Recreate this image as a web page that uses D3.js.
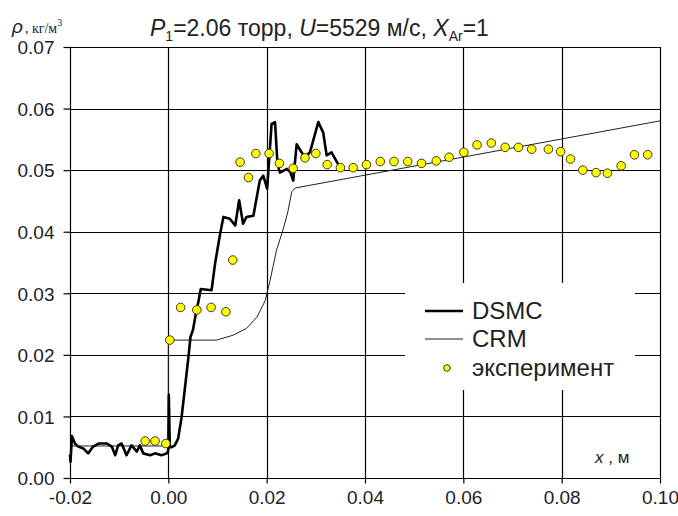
<!DOCTYPE html>
<html>
<head>
<meta charset="utf-8">
<script src="https://cdnjs.cloudflare.com/ajax/libs/d3/7.8.5/d3.min.js"></script>
<style>
body { margin: 0; background: #fff; }
text { font-family: "Liberation Sans", Arial, sans-serif; fill: #222; }
</style>
</head>
<body>
<svg id="visualisation" width="678" height="516"></svg>
<script>
var xTicks = [-0.02, 0.00, 0.02, 0.04, 0.06, 0.08, 0.10];
var yTicks = [0.00, 0.01, 0.02, 0.03, 0.04, 0.05, 0.06, 0.07];

// DSMC (thick line)
var dsmcX = [-0.0200, -0.0199, -0.0196, -0.0193, -0.0190, -0.0183, -0.0173, -0.0163, -0.0153, -0.0142,
  -0.0125, -0.0115, -0.0108, -0.0102, -0.0095, -0.0085, -0.0075, -0.0064, -0.0058, -0.0051,
  -0.0037, -0.0027, -0.0014, -0.0003, 0.0000, 0.0001, 0.0003, 0.0007, 0.0013, 0.0020,
  0.0027, 0.0034, 0.0041, 0.0045, 0.0050, 0.0056, 0.0061, 0.0066, 0.0088, 0.0095,
  0.0105, 0.0112, 0.0125, 0.0136, 0.0144, 0.0152, 0.0159, 0.0173, 0.0186, 0.0193,
  0.0201, 0.0210, 0.0217, 0.0222, 0.0227, 0.0241, 0.0248, 0.0254, 0.0261, 0.0271,
  0.0278, 0.0288, 0.0305, 0.0315, 0.0322, 0.0332, 0.0343, 0.0349];
var dsmcY = [0.0038, 0.0026, 0.0068, 0.0062, 0.0056, 0.0051, 0.0048, 0.0040, 0.0051, 0.0056,
  0.0056, 0.0051, 0.0037, 0.0053, 0.0056, 0.0037, 0.0053, 0.0043, 0.0053, 0.0040,
  0.0037, 0.0040, 0.0037, 0.0040, 0.0045, 0.0135, 0.0050, 0.0050, 0.0053, 0.0064,
  0.0099, 0.0148, 0.0197, 0.0229, 0.0240, 0.0267, 0.0286, 0.0307, 0.0305, 0.0348,
  0.0395, 0.0424, 0.0421, 0.0410, 0.0451, 0.0413, 0.0424, 0.0426, 0.0483, 0.0491,
  0.0470, 0.0575, 0.0578, 0.0510, 0.0496, 0.0502, 0.0497, 0.0483, 0.0542, 0.0529,
  0.0521, 0.0529, 0.0578, 0.0561, 0.0524, 0.0529, 0.0513, 0.0505];

// CRM (thin line)
var crmX = [-0.0200, 0.0000, 0.0000, 0.0098, 0.0132, 0.0159, 0.0180, 0.0197, 0.0207, 0.0220,
  0.0234, 0.0243, 0.0251, 0.0258, 0.1000];
var crmY = [0.0052, 0.0052, 0.0224, 0.0224, 0.0232, 0.0243, 0.0261, 0.0288, 0.0321, 0.0370,
  0.0405, 0.0432, 0.0465, 0.0471, 0.0580];

// experiment (points)
var expX = [-0.0047, -0.0027, -0.0005, 0.0003, 0.0025, 0.0058, 0.0087, 0.0117, 0.0131, 0.0146,
  0.0163, 0.0178, 0.0205, 0.0226, 0.0254, 0.0278, 0.0300, 0.0323, 0.0350, 0.0376,
  0.0403, 0.0431, 0.0459, 0.0487, 0.0515, 0.0545, 0.0571, 0.0601, 0.0628, 0.0657,
  0.0685, 0.0712, 0.0739, 0.0773, 0.0798, 0.0818, 0.0843, 0.0870, 0.0893, 0.0921,
  0.0948, 0.0975];
var expY = [0.0060, 0.0060, 0.0056, 0.0224, 0.0277, 0.0273, 0.0277, 0.0270, 0.0354, 0.0513,
  0.0488, 0.0527, 0.0527, 0.0511, 0.0503, 0.0520, 0.0527, 0.0509, 0.0504, 0.0504,
  0.0509, 0.0514, 0.0514, 0.0514, 0.0511, 0.0515, 0.0521, 0.0529, 0.0541, 0.0544,
  0.0537, 0.0537, 0.0534, 0.0534, 0.0530, 0.0518, 0.0500, 0.0496, 0.0495, 0.0507,
  0.0525, 0.0525];

var legendNames = ["DSMC", "CRM", "эксперимент"];

var vis = d3.select("#visualisation"),
  WIDTH = 678,
  HEIGHT = 516,
  MARGINS = {
    top: 47,
    right: 18,
    bottom: 38,
    left: 70
  };

var xRange = d3.scaleLinear()
  .range([MARGINS.left, WIDTH - MARGINS.right])
  .domain([-0.02, 0.10]);

var yRange = d3.scaleLinear()
  .range([HEIGHT - MARGINS.bottom, MARGINS.top])
  .domain([0, 0.07]);

var fmt = function (d) { return d.toFixed(2); };

// grid
vis.append("g").selectAll("line.vg")
  .data(xTicks).enter().append("line")
  .attr("x1", function (d) { return Math.round(xRange(d)) + 0.5; })
  .attr("x2", function (d) { return Math.round(xRange(d)) + 0.5; })
  .attr("y1", yRange(0.07)).attr("y2", yRange(0))
  .attr("stroke", "#000").attr("stroke-width", 1.2);

vis.append("g").selectAll("line.hg")
  .data(yTicks).enter().append("line")
  .attr("y1", function (d) { return Math.round(yRange(d)) + 0.5; })
  .attr("y2", function (d) { return Math.round(yRange(d)) + 0.5; })
  .attr("x1", xRange(-0.02)).attr("x2", xRange(0.10))
  .attr("stroke", "#000").attr("stroke-width", 1.2);

// axes (ticks + labels only)
vis.append("g")
  .attr("transform", "translate(0," + (Math.round(yRange(0)) + 0.5) + ")")
  .call(d3.axisBottom(xRange).tickValues(xTicks).tickFormat(fmt).tickSize(5).tickSizeOuter(0))
  .call(function (g) { g.select(".domain").remove(); })
  .call(function (g) {
    g.selectAll("line").attr("stroke", "#000").attr("stroke-width", 1.2);
    g.selectAll("text").attr("dy", null).attr("y", 25)
      .style("font-size", "19px").style("font-family", "'Liberation Sans', Arial, sans-serif").attr("fill", "#222");
  });

vis.append("g")
  .attr("transform", "translate(" + (Math.round(xRange(-0.02)) + 0.5) + ",0)")
  .call(d3.axisLeft(yRange).tickValues(yTicks).tickFormat(fmt).tickSize(7).tickSizeOuter(0))
  .call(function (g) { g.select(".domain").remove(); })
  .call(function (g) {
    g.selectAll("line").attr("stroke", "#000").attr("stroke-width", 1.2);
    g.selectAll("text").attr("x", -16).attr("dy", "0.36em")
      .style("font-size", "19px").style("font-family", "'Liberation Sans', Arial, sans-serif").attr("fill", "#222");
  });

// legend box (white, hides grid)
vis.append("rect")
  .attr("x", 405).attr("y", 283).attr("width", 230).attr("height", 107)
  .attr("fill", "#fff");

var lineFunc = d3.line()
  .x(function (d) { return xRange(d[0]); })
  .y(function (d) { return yRange(d[1]); });

vis.append("path")
  .attr("d", lineFunc(d3.zip(crmX, crmY)))
  .attr("stroke", "#222")
  .attr("stroke-width", 1)
  .attr("fill", "none");

vis.append("path")
  .attr("d", lineFunc(d3.zip(dsmcX, dsmcY)))
  .attr("stroke", "#000")
  .attr("stroke-width", 2.6)
  .attr("stroke-linejoin", "round")
  .attr("fill", "none");

vis.append("g").selectAll("circle")
  .data(d3.zip(expX, expY)).enter().append("circle")
  .attr("cx", function (d) { return xRange(d[0]); })
  .attr("cy", function (d) { return yRange(d[1]); })
  .attr("r", 4.3)
  .attr("fill", "#ffff00")
  .attr("stroke", "#3a3a1a")
  .attr("stroke-width", 1);

// legend
var lg = vis.append("g");
var legY = [311, 339, 368];
lg.append("line").attr("x1", 425).attr("x2", 463).attr("y1", legY[0]).attr("y2", legY[0])
  .attr("stroke", "#000").attr("stroke-width", 2.6);
lg.append("line").attr("x1", 425).attr("x2", 463).attr("y1", legY[1]).attr("y2", legY[1])
  .attr("stroke", "#222").attr("stroke-width", 1);
lg.append("circle").attr("cx", 447).attr("cy", legY[2]).attr("r", 3.3)
  .attr("fill", "#ffff00").attr("stroke", "#3a3a1a").attr("stroke-width", 1);
lg.selectAll("text").data(legendNames).enter().append("text")
  .attr("x", 472)
  .attr("y", function (d, i) { return legY[i] + 8; })
  .style("font-size", "24px")
  .text(function (d) { return d; });

// axis titles
var xl = vis.append("text").attr("x", 595).attr("y", 463).style("font-size", "17px");
xl.append("tspan").style("font-style", "italic").text("x");
xl.append("tspan").text(" , м");

var yl = vis.append("text").attr("x", 12).attr("y", 33);
yl.append("tspan").style("font-style", "italic").style("font-size", "19px").text("ρ");
yl.append("tspan").style("font-family", "'Liberation Serif', 'Times New Roman', serif").style("font-size", "14px").attr("dx", 2).text(", кг/м");
yl.append("tspan").style("font-family", "'Liberation Serif', 'Times New Roman', serif").style("font-size", "10px").attr("dy", -7).text("3");

// title
var tt = vis.append("text").attr("x", 150).attr("y", 36).style("font-size", "23px");
tt.append("tspan").style("font-style", "italic").text("P");
tt.append("tspan").style("font-size", "14px").attr("dy", 5).text("1");
tt.append("tspan").attr("dy", -5).text("=2.06 торр, ");
tt.append("tspan").style("font-style", "italic").text("U");
tt.append("tspan").text("=5529 м/с, ");
tt.append("tspan").style("font-style", "italic").text("X");
tt.append("tspan").style("font-size", "14px").attr("dy", 5).text("Ar");
tt.append("tspan").attr("dy", -5).text("=1");
</script>
</body>
</html>
